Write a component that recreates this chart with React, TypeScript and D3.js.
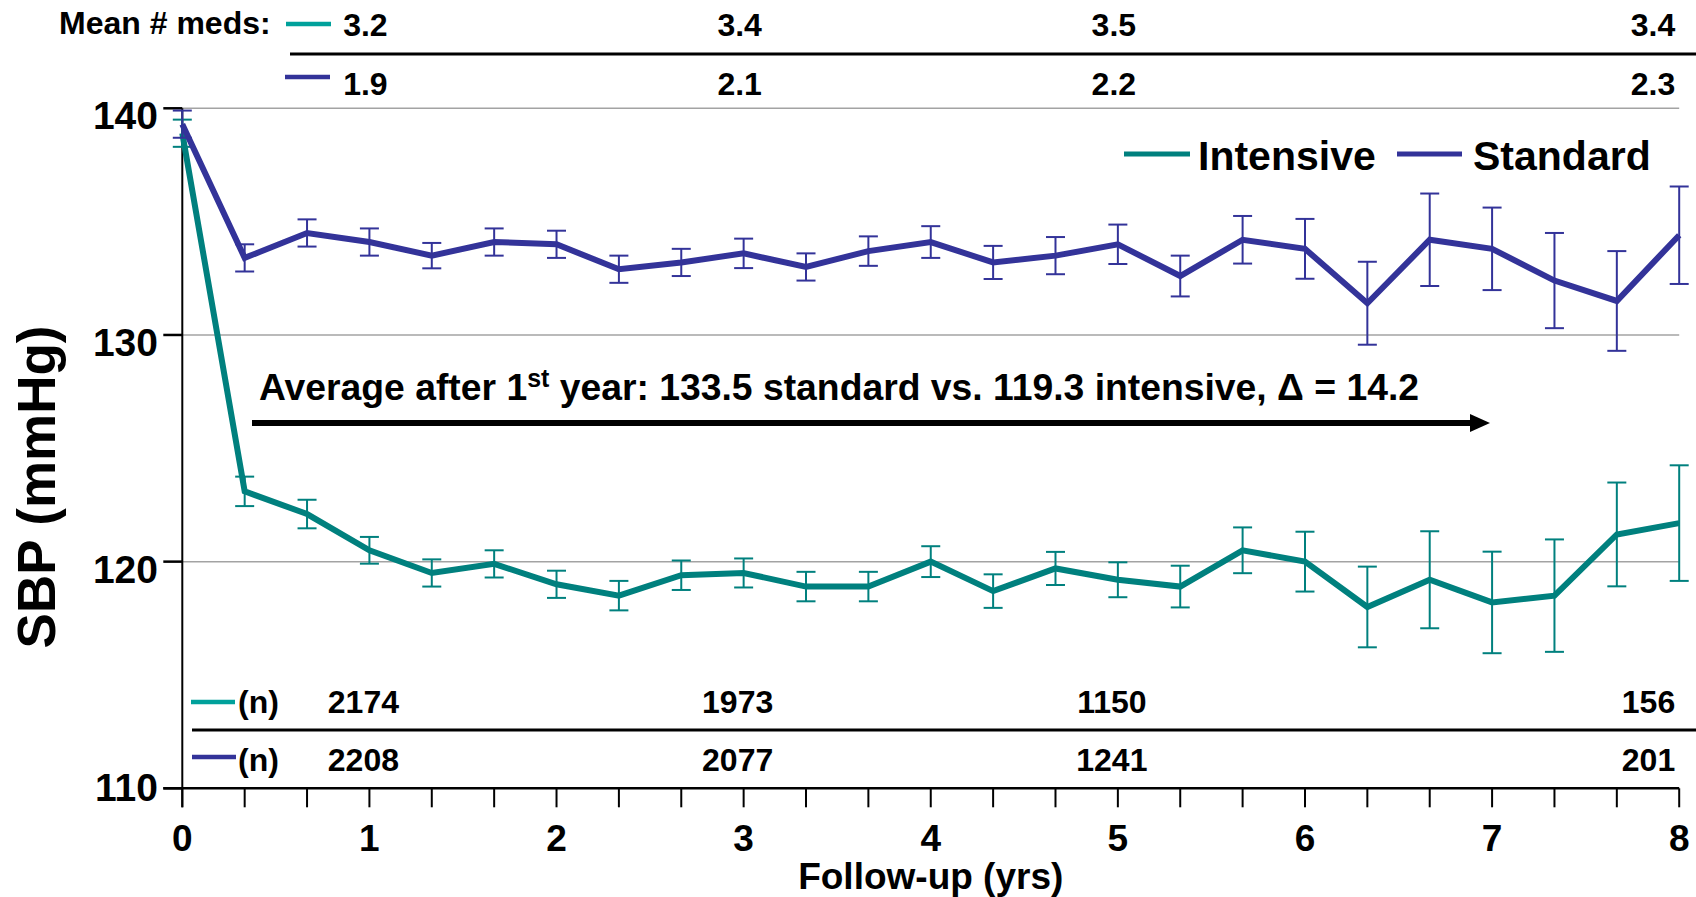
import React from "react";
import * as d3 from "d3";

// ---- data ----
const months = [0, 4, 8, 12, 16, 20, 24, 28, 32, 36, 40, 44, 48, 52, 56, 60, 64, 68, 72, 76, 80, 84, 88, 92, 96];
const standardMean = [139.3, 133.4, 134.5, 134.1, 133.5, 134.1, 134.0, 132.9, 133.2, 133.6, 133.0, 133.7, 134.1, 133.2, 133.5, 134.0, 132.6, 134.2, 133.8, 131.4, 134.2, 133.8, 132.4, 131.5, 134.4];
const standardErr = [0.6, 0.6, 0.6, 0.6, 0.56, 0.6, 0.6, 0.6, 0.6, 0.65, 0.6, 0.65, 0.7, 0.73, 0.82, 0.87, 0.9, 1.05, 1.32, 1.83, 2.04, 1.82, 2.1, 2.2, 2.15];
const intensiveMean = [138.9, 123.1, 122.1, 120.5, 119.5, 119.9, 119.0, 118.5, 119.4, 119.5, 118.9, 118.9, 120.0, 118.7, 119.7, 119.2, 118.9, 120.5, 120.0, 118.0, 119.2, 118.2, 118.5, 121.2, 121.7];
const intensiveErr = [0.6, 0.65, 0.63, 0.59, 0.6, 0.6, 0.6, 0.65, 0.65, 0.64, 0.65, 0.65, 0.68, 0.74, 0.73, 0.77, 0.92, 1.01, 1.32, 1.78, 2.14, 2.24, 2.48, 2.29, 2.55];

const yTicks = [110, 120, 130, 140];
const gridValues = [120, 130, 140];
const xTickYears = [0, 1, 2, 3, 4, 5, 6, 7, 8];

const tableYears = [1, 3, 5, 8];
const medsIntensive = ["3.2", "3.4", "3.5", "3.4"];
const medsStandard = ["1.9", "2.1", "2.2", "2.3"];
const nIntensive = ["2174", "1973", "1150", "156"];
const nStandard = ["2208", "2077", "1241", "201"];

const TEAL = "#00807e";
const TEAL_LIGHT = "#00a19b";
const BLUE = "#333399";
const FONT = "'Liberation Sans', Arial, sans-serif";

export default function App() {
  const W = 1696;
  const H = 897;
  const x = d3.scaleLinear().domain([0, 96]).range([182.3, 1679.2]);
  const y = d3.scaleLinear().domain([110, 140]).range([788.3, 108.3]);

  const mkLine = (vals: number[]) =>
    d3
      .line<number>()
      .x((_, i) => x(months[i]))
      .y((v) => y(v))(vals) as string;

  const errorBars = (vals: number[], errs: number[], color: string, key: string) =>
    vals.map((v, i) => {
      const cx = x(months[i]);
      const y1 = y(v + errs[i]);
      const y2 = y(v - errs[i]);
      return (
        <g key={key + i} stroke={color} strokeWidth={2}>
          <line x1={cx} x2={cx} y1={y1} y2={y2} />
          <line x1={cx - 9.5} x2={cx + 9.5} y1={y1} y2={y1} />
          <line x1={cx - 9.5} x2={cx + 9.5} y1={y2} y2={y2} />
        </g>
      );
    });

  const tableX = (yr: number, i: number, arr: any[], shift: number) =>
    i === arr.length - 1 ? x(yr * 12) - 4 : x(yr * 12) + shift;
  const tableAnchor = (i: number, arr: any[]) => (i === arr.length - 1 ? "end" : "middle");

  return (
    <div style={{ position: "fixed", left: 0, top: 0 }}>
      <svg width={W} height={H} style={{ display: "block", background: "#fff" }} fontFamily={FONT} fontWeight="bold">
        {/* gridlines */}
        {gridValues.map((g) => (
          <line key={"g" + g} x1={x(0)} x2={x(96)} y1={y(g)} y2={y(g)} stroke="#a3a3a3" strokeWidth={1.5} />
        ))}

        {/* axes */}
        <line x1={x(0)} x2={x(0)} y1={y(140)} y2={y(110) + 19} stroke="#000" strokeWidth={2} />
        <line x1={x(0) - 19} x2={x(96)} y1={y(110)} y2={y(110)} stroke="#000" strokeWidth={2.5} />
        {yTicks.map((t) => (
          <g key={"yt" + t}>
            <line x1={x(0) - 19} x2={x(0)} y1={y(t)} y2={y(t)} stroke="#000" strokeWidth={2.5} />
            <text x={158} y={y(t) + (t === 110 ? 13 : 21)} fontSize={39} textAnchor="end">
              {t}
            </text>
          </g>
        ))}
        {months.map((m) => (
          <line key={"xt" + m} x1={x(m)} x2={x(m)} y1={y(110)} y2={y(110) + 19} stroke="#000" strokeWidth={2} />
        ))}
        {xTickYears.map((yr) => (
          <text key={"xl" + yr} x={x(yr * 12)} y={851} fontSize={37} textAnchor="middle">
            {yr}
          </text>
        ))}
        <text x={x(48)} y={889} fontSize={37} textAnchor="middle">
          Follow-up (yrs)
        </text>
        <text transform={`translate(55,487) rotate(-90)`} fontSize={53} textAnchor="middle">
          SBP (mmHg)
        </text>

        {/* series */}
        <path d={mkLine(intensiveMean)} fill="none" stroke={TEAL} strokeWidth={6} strokeLinejoin="miter" />
        {errorBars(intensiveMean, intensiveErr, TEAL, "ie")}
        <path d={mkLine(standardMean)} fill="none" stroke={BLUE} strokeWidth={6} strokeLinejoin="miter" />
        {errorBars(standardMean, standardErr, BLUE, "se")}

        {/* legend */}
        <line x1={1124} x2={1190} y1={154} y2={154} stroke={TEAL} strokeWidth={5} />
        <text x={1198} y={170} fontSize={41}>Intensive</text>
        <line x1={1397} x2={1462} y1={154} y2={154} stroke={BLUE} strokeWidth={5} />
        <text x={1473} y={170} fontSize={41}>Standard</text>

        {/* annotation */}
        <text x={259} y={400} fontSize={37.3}>
          Average after 1
          <tspan fontSize={25} dy={-13}>st</tspan>
          <tspan dy={13}> year: 133.5 standard vs. 119.3 intensive, Δ = 14.2</tspan>
        </text>
        <line x1={252} x2={1472} y1={423} y2={423} stroke="#000" strokeWidth={6} />
        <path d="M1470,414 L1490,423 L1470,432 Z" fill="#000" />

        {/* mean # meds table */}
        <text x={59} y={34} fontSize={32}>Mean # meds:</text>
        <line x1={286} x2={331} y1={24} y2={24} stroke={TEAL_LIGHT} strokeWidth={4.5} />
        <line x1={285} x2={330} y1={77} y2={77} stroke={BLUE} strokeWidth={4.5} />
        <line x1={290} x2={1696} y1={54} y2={54} stroke="#000" strokeWidth={3} />
        {tableYears.map((yr, i) => (
          <text key={"mi" + yr} x={tableX(yr, i, medsIntensive, -4)} y={36} fontSize={32} textAnchor={tableAnchor(i, medsIntensive)}>
            {medsIntensive[i]}
          </text>
        ))}
        {tableYears.map((yr, i) => (
          <text key={"ms" + yr} x={tableX(yr, i, medsStandard, -4)} y={95} fontSize={32} textAnchor={tableAnchor(i, medsStandard)}>
            {medsStandard[i]}
          </text>
        ))}

        {/* n table */}
        <line x1={191} x2={235} y1={702} y2={702} stroke={TEAL_LIGHT} strokeWidth={4.5} />
        <text x={238} y={713} fontSize={32}>(n)</text>
        <line x1={192} x2={1696} y1={730} y2={730} stroke="#000" strokeWidth={3} />
        <line x1={192} x2={236} y1={757} y2={757} stroke={BLUE} strokeWidth={4.5} />
        <text x={238} y={771} fontSize={32}>(n)</text>
        {tableYears.map((yr, i) => (
          <text key={"ni" + yr} x={tableX(yr, i, nIntensive, -6)} y={713} fontSize={32} textAnchor={tableAnchor(i, nIntensive)}>
            {nIntensive[i]}
          </text>
        ))}
        {tableYears.map((yr, i) => (
          <text key={"ns" + yr} x={tableX(yr, i, nStandard, -6)} y={771} fontSize={32} textAnchor={tableAnchor(i, nStandard)}>
            {nStandard[i]}
          </text>
        ))}
      </svg>
    </div>
  );
}
